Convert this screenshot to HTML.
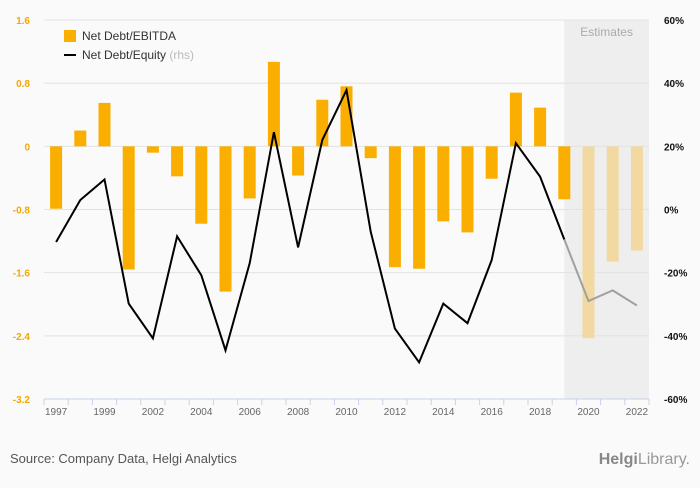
<!DOCTYPE html>
<html><head><meta charset="utf-8"><style>
body{margin:0;background:#fafafa;font-family:"Liberation Sans",sans-serif;}
svg text{font-family:"Liberation Sans",sans-serif;}
</style></head><body>
<svg id="chart" width="700" height="483" xmlns="http://www.w3.org/2000/svg">
<rect width="700" height="483" fill="#fafafa"/>
<g id="g"></g>
<text x="10" y="463" font-size="13" fill="#555">Source: Company Data, Helgi Analytics</text>
<text x="690" y="464" font-size="16" fill="#999" text-anchor="end" font-family="Liberation Serif"><tspan font-weight="bold" fill="#888">Helgi</tspan>Library.</text>
</svg>
<script>
const years=[1997,1998,1999,2001,2002,2003,2004,2005,2006,2007,2008,2009,2010,2011,2012,2013,2014,2015,2016,2017,2018,2019,2020,2021,2022];
const ebitda=[-0.79,0.2,0.55,-1.56,-0.08,-0.38,-0.98,-1.84,-0.66,1.07,-0.37,0.59,0.76,-0.15,-1.53,-1.55,-0.95,-1.09,-0.41,0.68,0.49,-0.67,-2.43,-1.46,-1.32];
const equity=[-10.3,3,9.5,-29.8,-40.8,-8.5,-20.8,-44.6,-17,24.5,-12,22,37.8,-7,-37.7,-48.4,-29.8,-36,-16,21,10.4,-9.5,-29,-25.6,-30.4];
const leftTicks=[1.6,0.8,0,-0.8,-1.6,-2.4,-3.2];
const rightTicks=[60,40,20,0,-20,-40,-60];
const labelYears=[1997,1999,2002,2004,2006,2008,2010,2012,2014,2016,2018,2020,2022];
const firstEstimate=2019;
const X0=44,X1=649,T=20,B=399;
const bw=(X1-X0)/years.length;
const xc=i=>X0+bw*(i+0.5);
const yL=v=>T+(1.6-v)/4.8*(B-T);
const yR=v=>T+(60-v)/120*(B-T);
const g=document.getElementById('g');
const NS='http://www.w3.org/2000/svg';
function mk(t,a){const e=document.createElementNS(NS,t);for(const k in a)e.setAttribute(k,a[k]);g.appendChild(e);return e;}
const ei=years.indexOf(firstEstimate);
let sh=mk('rect',{x:xc(ei),y:T,width:X1-xc(ei),height:B-T,fill:'#eeeeee'});


let st=mk('text',{x:(xc(ei)+X1)/2,y:36,'font-size':12,fill:'#aaa','text-anchor':'middle'});st.textContent='Estimates';


leftTicks.forEach((v,k)=>{
  const y=yL(v);
  if(k<leftTicks.length-1){let l=mk('line',{x1:X0,x2:X1,y1:y,y2:y,stroke:'#e2e2e2'});
  
  }
  let t=mk('text',{x:30,y:y+4,'font-size':10,'font-weight':'bold',fill:'#f5a800','text-anchor':'end'});t.textContent=v===0?'0':v.toFixed(1);
  
  
});
rightTicks.forEach(v=>{
  let t=mk('text',{x:664,y:yR(v)+4,'font-size':10,'font-weight':'bold',fill:'#111'});t.textContent=v+'%';
  
  
});
let ax=mk('line',{x1:X0,x2:X1,y1:B,y2:B,stroke:'#c5d3ea'});


for(let i=0;i<=years.length;i++){let tk=mk('line',{x1:X0+bw*i,x2:X0+bw*i,y1:B,y2:B+6,stroke:'#c5d3ea'});

}
years.forEach((yr,i)=>{
  if(labelYears.includes(yr)){let t=mk('text',{x:xc(i),y:415,'font-size':10,fill:'#666','text-anchor':'middle'});t.textContent=yr;
  
  }
  const v=ebitda[i],y0=yL(0),y1=yL(v);
  let r=mk('rect',{x:xc(i)-6,y:Math.min(y0,y1),width:12,height:Math.abs(y1-y0),fill:yr>firstEstimate?'#f2d9a2':'#f9ae00'});
  
  
});
let p1=[],p2=[];
years.forEach((yr,i)=>{const pt=xc(i)+','+yR(equity[i]);if(yr<=firstEstimate)p1.push(pt);if(yr>=firstEstimate)p2.push(pt);});
let l1=mk('polyline',{points:p1.join(' '),fill:'none',stroke:'#000','stroke-width':2,'stroke-linejoin':'miter'});


let l2=mk('polyline',{points:p2.join(' '),fill:'none',stroke:'#a0a0a0','stroke-width':2});


let lg1=mk('rect',{x:64,y:30,width:12,height:12,fill:'#f9ae00'});


let lt1=mk('text',{x:82,y:40,'font-size':12,fill:'#333'});lt1.textContent='Net Debt/EBITDA';


let lg2=mk('line',{x1:64,x2:76,y1:55,y2:55,stroke:'#000','stroke-width':2});


let lt2=mk('text',{x:82,y:59,'font-size':12,fill:'#333'});lt2.innerHTML='Net Debt/Equity <tspan fill="#bbb">(rhs)</tspan>';


</script>
</body></html>
